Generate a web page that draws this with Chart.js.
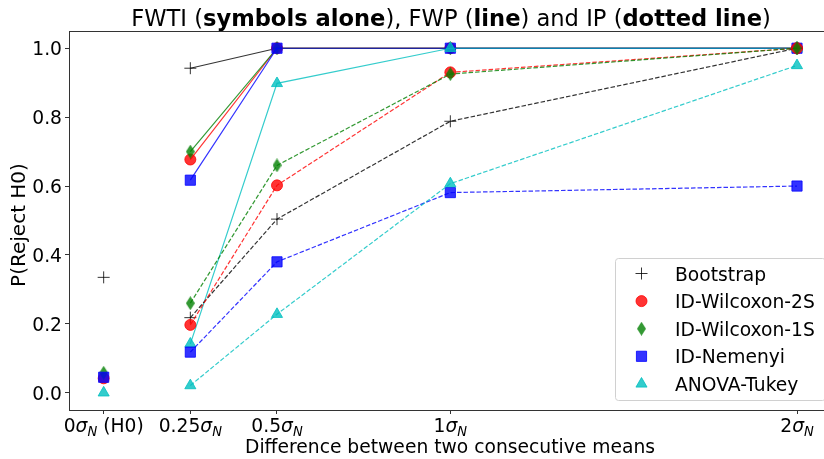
<!DOCTYPE html>
<html>
<head>
<meta charset="utf-8">
<script src="https://cdn.jsdelivr.net/npm/chart.js@4.4.0/dist/chart.umd.min.js"></script>
<style>
  html, body { margin:0; padding:0; background:#fff; }
  #wrap { width:824px; height:459px; }
</style>
</head>
<body>
<div id="wrap"><canvas id="chart" width="824" height="459"></canvas></div>
<script>
// ---- data ----
const xVals = [0, 0.25, 0.5, 1, 2];
const tickNums = ['0', '0.25', '0.5', '1', '2'];
const tickNotes = [' (H0)', '', '', '', ''];
const yTicks = [0, 0.2, 0.4, 0.6, 0.8, 1.0];
const methods = ['Bootstrap', 'ID-Wilcoxon-2S', 'ID-Wilcoxon-1S', 'ID-Nemenyi', 'ANOVA-Tukey'];

// FWTI: value at H0 only (symbols alone)
const fwti = [0.335, 0.042, 0.058, 0.045, 0.0];

// FWP (solid line) at 0.25, 0.5, 1, 2
const fwpBootstrap = [0.942, 1.0, 1.0, 1.0];
const fwpWilcoxon2S = [0.677, 1.0, 1.0, 1.0];
const fwpWilcoxon1S = [0.700, 1.0, 1.0, 1.0];
const fwpNemenyi = [0.617, 1.0, 1.0, 1.0];
const fwpTukey = [0.142, 0.898, 1.0, 1.0];

// IP (dotted line) at 0.25, 0.5, 1, 2
const ipBootstrap = [0.218, 0.504, 0.788, 1.0];
const ipWilcoxon2S = [0.197, 0.602, 0.930, 1.0];
const ipWilcoxon1S = [0.260, 0.660, 0.925, 1.0];
const ipNemenyi = [0.118, 0.380, 0.581, 0.600];
const ipTukey = [0.021, 0.228, 0.607, 0.950];

const fwpAll = [fwpBootstrap, fwpWilcoxon2S, fwpWilcoxon1S, fwpNemenyi, fwpTukey];
const ipAll = [ipBootstrap, ipWilcoxon2S, ipWilcoxon1S, ipNemenyi, ipTukey];

// ---- styles ----
const colors = ['rgba(0,0,0,0.8)', 'rgba(255,0,0,0.8)', 'rgba(0,128,0,0.8)', 'rgba(0,0,255,0.8)', 'rgba(0,191,191,0.8)'];
const FONT = '"DejaVu Sans", sans-serif';
const SX = 0.97; // text looks a bit squeezed sideways

function makeDiamond(color){
  const c = document.createElement('canvas');
  c.width = 9; c.height = 14;
  const g = c.getContext('2d');
  g.fillStyle = color;
  g.beginPath();
  g.moveTo(4.5, 0); g.lineTo(9, 7); g.lineTo(4.5, 14); g.lineTo(0, 7);
  g.closePath(); g.fill();
  return c;
}
const markers = [
  { style:'cross', radius:6, border:1 },
  { style:'circle', radius:5.5, border:0 },
  { style:makeDiamond(colors[2]), radius:7, border:0 },
  { style:'rect', radius:7.2, border:0 },
  { style:'triangle', radius:6.4, border:0 }
];

function pts(ys){ return ys.map((y, k) => ({ x:xVals[k + 1], y })); }

const datasets = [];
let layer = 0;
function addSet(label, data, i, extra){
  datasets.push(Object.assign({
    label, data,
    borderColor:colors[i], backgroundColor:colors[i],
    pointStyle:markers[i].style, pointRadius:markers[i].radius, pointBorderWidth:markers[i].border || 1,
    order:100 - layer++
  }, extra));
}
methods.forEach((m, i) => addSet(m, [{ x:xVals[0], y:fwti[i] }], i, { showLine:false }));
methods.forEach((m, i) => addSet(m + ' FWP', pts(fwpAll[i]), i, { showLine:true, borderWidth:1.2 }));
methods.forEach((m, i) => addSet(m + ' IP', pts(ipAll[i]), i, { showLine:true, borderWidth:1.2, borderDash:[4.5, 2] }));

// squeezed text helper
function txt(ctx, s, x, y, font, align, sx){
  sx = sx || SX;
  ctx.save();
  ctx.font = font;
  ctx.textBaseline = 'alphabetic';
  const w = ctx.measureText(s).width * sx;
  let x0 = x;
  if (align === 'center') x0 = x - w / 2;
  else if (align === 'right') x0 = x - w;
  ctx.translate(x0, y);
  ctx.scale(sx, 1);
  ctx.fillText(s, 0, 0);
  ctx.restore();
  return w;
}
function runWidth(ctx, parts){
  let w = 0;
  parts.forEach(p => { ctx.font = p.font; w += ctx.measureText(p.s).width * SX; });
  return w;
}
function drawRun(ctx, parts, cx, y){
  let x = cx - runWidth(ctx, parts) / 2;
  parts.forEach(p => { x += txt(ctx, p.s, x, y + (p.dy || 0), p.font, 'left'); });
}

const decor = {
  id:'decor',
  afterDraw(chart){
    const ctx = chart.ctx, a = chart.chartArea;
    const xs = chart.scales.x, ys = chart.scales.y;
    ctx.save();
    ctx.fillStyle = '#000';

    // frame
    ctx.strokeStyle = '#333';
    ctx.lineWidth = 1;
    ctx.strokeRect(a.left + 0.5, a.top + 0.5, a.right - a.left + 20, a.bottom - a.top);

    // title
    const nf = '23.3px ' + FONT, bf = 'bold 23.3px ' + FONT;
    drawRun(ctx, [
      { s:'FWTI (', font:nf }, { s:'symbols alone', font:bf }, { s:'), FWP (', font:nf },
      { s:'line', font:bf }, { s:') and IP (', font:nf }, { s:'dotted line', font:bf }, { s:')', font:nf }
    ], 451, 26);

    // y tick labels
    const tf = '19.3px ' + FONT;
    yTicks.forEach(v => txt(ctx, v.toFixed(1), a.left - 7, ys.getPixelForValue(v) + 7, tf, 'right'));

    // x tick labels
    const itf = 'italic 19.3px ' + FONT, sf = 'italic 13.5px ' + FONT;
    xVals.forEach((v, k) => {
      drawRun(ctx, [
        { s:tickNums[k], font:tf }, { s:'σ', font:itf }, { s:'N', font:sf, dy:4 }, { s:tickNotes[k], font:tf }
      ], xs.getPixelForValue(v), a.bottom + 22.3);
    });

    // axis titles
    txt(ctx, 'Difference between two consecutive means', 450, 453.3, tf, 'center');
    ctx.save();
    ctx.translate(25, 225);
    ctx.rotate(-Math.PI / 2);
    txt(ctx, 'P(Reject H0)', 0, 0, '20px ' + FONT, 'center', 1);
    ctx.restore();

    // legend
    const lx = 615, ly = 258, lw = 210, lh = 142;
    ctx.fillStyle = 'rgba(255,255,255,0.8)';
    ctx.strokeStyle = '#d0d0d0';
    ctx.lineWidth = 1;
    ctx.beginPath();
    ctx.roundRect(lx + 0.5, ly + 0.5, lw, lh, 3);
    ctx.fill(); ctx.stroke();
    methods.forEach((m, i) => {
      const yy = ly + 15.5 + i * 27.6;
      ctx.fillStyle = colors[i];
      ctx.strokeStyle = colors[i];
      ctx.lineWidth = markers[i].border || 1;
      Chart.helpers.drawPoint(ctx, {
        pointStyle:markers[i].style, radius:markers[i].radius, rotation:0, borderWidth:markers[i].border || 1
      }, 641.5, yy);
      ctx.fillStyle = '#000';
      txt(ctx, m, 675, yy + 7, tf, 'left');
    });
    ctx.restore();
  }
};

new Chart(document.getElementById('chart'), {
  type:'line',
  data:{ datasets },
  options:{
    responsive:false,
    animation:false,
    events:[],
    layout:{ autoPadding:false, padding:{ top:31, right:1, left:0, bottom:0 } },
    plugins:{ legend:{ display:false }, title:{ display:false }, tooltip:{ enabled:false } },
    scales:{
      x:{
        type:'linear', min:-0.1, max:2.075,
        afterBuildTicks:s => { s.ticks = xVals.map(v => ({ value:v })); },
        afterFit:s => { s.height = 49; },
        ticks:{ display:false },
        border:{ display:false },
        grid:{ drawOnChartArea:false, drawTicks:true, tickLength:4, color:'#333' }
      },
      y:{
        type:'linear', min:-0.05, max:1.05,
        afterBuildTicks:s => { s.ticks = yTicks.map(v => ({ value:v })); },
        afterFit:s => { s.width = 69; },
        ticks:{ display:false },
        border:{ display:false },
        grid:{ drawOnChartArea:false, drawTicks:true, tickLength:4, color:'#333' }
      }
    }
  },
  plugins:[decor]
});
</script>
</body>
</html>
